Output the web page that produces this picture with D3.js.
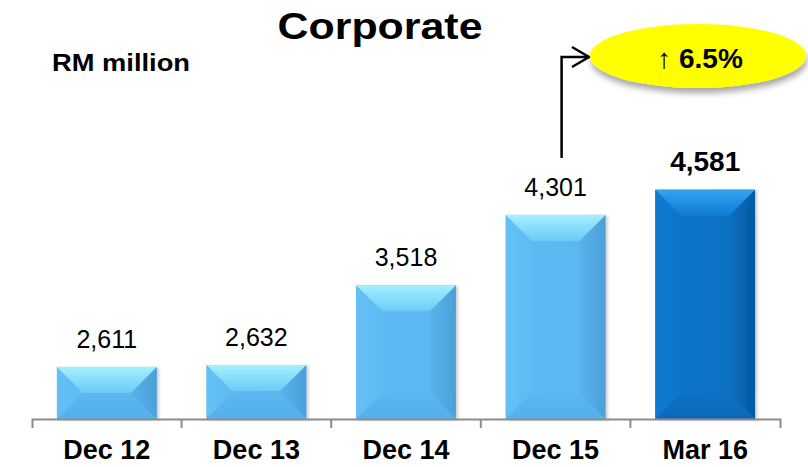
<!DOCTYPE html>
<html>
<head>
<meta charset="utf-8">
<script src="https://cdn.jsdelivr.net/npm/d3@7"></script>
<style>
  html, body { margin: 0; padding: 0; background: #fff; }
  svg { display: block; font-family: Arial, "Liberation Sans", sans-serif; }
</style>
</head>
<body>
<svg id="chart" width="808" height="467"></svg>
<script>
// ---- data ----
const categories = ["Dec 12", "Dec 13", "Dec 14", "Dec 15", "Mar 16"];
const values = [2611, 2632, 3518, 4301, 4581];
const highlighted = [false, false, false, false, true];
const titleText = "Corporate";
const unitText = "RM million";
const growthArrow = "\u2191";
const growthText = "6.5%";

// ---- setup ----
const svg = d3.select("#chart");
const baseY = 419;

const x = d3.scaleBand().domain(categories).range([32, 780])
  .paddingInner(1 / 3).paddingOuter(1 / 6);
const y = d3.scaleLinear().domain([2032, 5000]).range([baseY, 152]);

const defs = svg.append("defs");
function grad(id, stops, horiz) {
  const g = defs.append("linearGradient").attr("id", id)
    .attr("x1", 0).attr("y1", 0).attr("x2", horiz ? 1 : 0).attr("y2", horiz ? 0 : 1);
  stops.forEach(([o, c]) => g.append("stop").attr("offset", o).attr("stop-color", c));
}
// light palette
grad("lt-top", [[0, "#a4f0ff"], [1, "#6ccbf7"]]);
grad("lt-left", [[0, "#64c0f4"], [1, "#5fbbf2"]], true);
grad("lt-right", [[0, "#58b4ec"], [1, "#4c9fd8"]], true);
grad("lt-bot", [[0, "#5bb7ef"], [1, "#56b0ea"]]);
grad("lt-mid", [[0, "#5ebbf2"], [1, "#59b6ef"]], true);
// dark palette
grad("dk-top", [[0, "#34a4f2"], [1, "#0d7bd3"]]);
grad("dk-left", [[0, "#0c7ad0"], [1, "#0b76cb"]], true);
grad("dk-right", [[0, "#0970c2"], [1, "#055aa0"]], true);
grad("dk-bot", [[0, "#0a70c3"], [1, "#0868b8"]]);
grad("dk-mid", [[0, "#0b75c9"], [1, "#0a71c4"]], true);

const sh = defs.append("filter").attr("id", "shadow")
  .attr("x", "-20%").attr("y", "-30%").attr("width", "140%").attr("height", "170%");
sh.append("feDropShadow").attr("dx", 1).attr("dy", 5).attr("stdDeviation", 3)
  .attr("flood-color", "#000").attr("flood-opacity", 0.35);

const barSh = defs.append("filter").attr("id", "barshadow")
  .attr("x", "-10%").attr("y", "-10%").attr("width", "125%").attr("height", "120%");
barSh.append("feDropShadow").attr("dx", 2).attr("dy", 1).attr("stdDeviation", 1.5)
  .attr("flood-color", "#000").attr("flood-opacity", 0.2);

// ---- title ----
svg.append("text").attr("x", 380).attr("y", 39)
  .attr("text-anchor", "middle").attr("font-weight", "bold").attr("font-size", 36)
  .attr("textLength", 205).attr("lengthAdjust", "spacingAndGlyphs")
  .attr("fill", "#000").text(titleText);

svg.append("text").attr("x", 52).attr("y", 71)
  .attr("font-weight", "bold").attr("font-size", 23)
  .attr("textLength", 138).attr("lengthAdjust", "spacingAndGlyphs")
  .attr("fill", "#000").text(unitText);

// ---- bars ----
const data = categories.map((c, i) => ({ c, v: values[i], hi: highlighted[i] }));
const bars = svg.append("g").selectAll("g").data(data).join("g")
  .attr("filter", "url(#barshadow)");

bars.each(function (d) {
  const g = d3.select(this);
  const x0 = x(d.c), w = x.bandwidth();
  const y0 = y(d.v), h = baseY - y0;
  const b = Math.min(26, h / 2, w / 2);
  const p = d.hi ? "dk" : "lt";
  const x1 = x0 + w, y1 = y0 + h;
  const poly = pts => pts.map(q => q.join(",")).join(" ");
  g.append("rect").attr("x", x0).attr("y", y0).attr("width", w).attr("height", h)
    .attr("fill", `url(#${p}-mid)`);
  g.append("polygon").attr("points", poly([[x0, y0], [x0 + b, y0 + b], [x0 + b, y1 - b], [x0, y1]]))
    .attr("fill", `url(#${p}-left)`);
  g.append("polygon").attr("points", poly([[x1, y0], [x1, y1], [x1 - b, y1 - b], [x1 - b, y0 + b]]))
    .attr("fill", `url(#${p}-right)`);
  g.append("polygon").attr("points", poly([[x0, y1], [x0 + b, y1 - b], [x1 - b, y1 - b], [x1, y1]]))
    .attr("fill", `url(#${p}-bot)`);
  g.append("polygon").attr("points", poly([[x0, y0], [x1, y0], [x1 - b, y0 + b], [x0 + b, y0 + b]]))
    .attr("fill", `url(#${p}-top)`);
});

// ---- value labels ----
const fmt = d3.format(",");
svg.append("g").selectAll("text").data(data).join("text")
  .attr("x", d => x(d.c) + x.bandwidth() / 2)
  .attr("y", d => y(d.v) - 19)
  .attr("text-anchor", "middle")
  .attr("font-size", d => d.hi ? 28 : 25)
  .attr("font-weight", d => d.hi ? "bold" : "normal")
  .attr("fill", "#000")
  .text(d => fmt(d.v));

// ---- axis ----
const axis = svg.append("g").attr("transform", `translate(0,${baseY})`)
  .call(d3.axisBottom(x).tickSize(0).tickSizeOuter(9).tickPadding(21));
axis.select(".domain").attr("stroke", "#8c8c8c").attr("stroke-width", 2);
axis.selectAll(".tick text").attr("font-size", 27).attr("font-weight", "bold")
  .attr("fill", "#000").attr("font-family", "Arial, 'Liberation Sans', sans-serif");
const step = x.step();
const x0r = x.range()[0];
axis.selectAll(".sep").data(d3.range(1, categories.length)).join("line")
  .attr("class", "sep")
  .attr("x1", i => x0r + i * step).attr("x2", i => x0r + i * step)
  .attr("y1", 0).attr("y2", 9)
  .attr("stroke", "#8c8c8c").attr("stroke-width", 2);

// ---- growth callout ----
const prev = data[data.length - 2];
const ax = x(prev.c) + x.bandwidth() / 2 + 6;
const ell = { cx: 698, cy: 56, rx: 108, ry: 32 };
svg.append("path")
  .attr("d", `M${ax},${y(prev.v) - 57} V${ell.cy + 1} H${ell.cx - ell.rx - 1}`)
  .attr("fill", "none").attr("stroke", "#000").attr("stroke-width", 2.5);
svg.append("path")
  .attr("d", `M${ell.cx - ell.rx - 18},${ell.cy - 9} L${ell.cx - ell.rx - 1},${ell.cy + 1} L${ell.cx - ell.rx - 18},${ell.cy + 11}`)
  .attr("fill", "none").attr("stroke", "#000").attr("stroke-width", 2.5);
svg.append("ellipse").attr("cx", ell.cx).attr("cy", ell.cy).attr("rx", ell.rx).attr("ry", ell.ry)
  .attr("fill", "#ffff00").attr("filter", "url(#shadow)");
const gt = svg.append("text").attr("x", 700).attr("y", 68).attr("text-anchor", "middle")
  .attr("fill", "#000");
gt.append("tspan").attr("font-size", 28).attr("font-weight", "normal").text(growthArrow + " ");
gt.append("tspan").attr("font-size", 28).attr("font-weight", "bold").text(growthText);
</script>
</body>
</html>
